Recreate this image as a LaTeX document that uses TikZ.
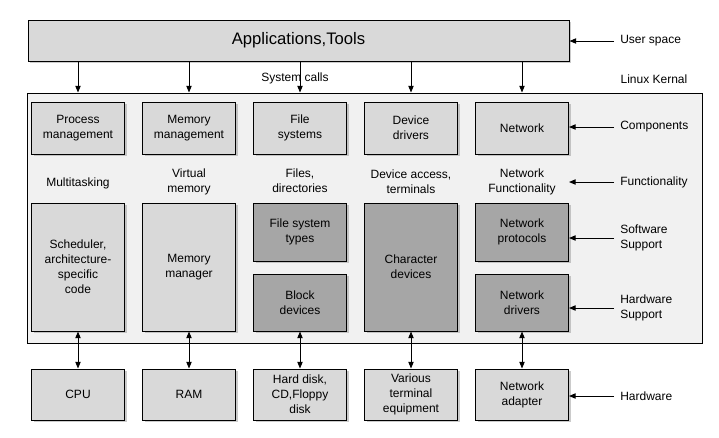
\documentclass[tikz,border=0pt]{standalone}
\usepackage{fontspec}
\setmainfont{Liberation Sans}
\definecolor{boxlight}{RGB}{217,217,217}
\definecolor{boxdark}{RGB}{166,166,166}
\definecolor{kernelbg}{RGB}{241,241,241}
\usetikzlibrary{arrows.meta,positioning,shadows,calc}

\begin{document}
\begin{tikzpicture}[x=0.75pt, y=-0.75pt,
    blk/.style={draw, line width=0.75pt, fill=boxlight, align=center, inner sep=1pt,
      minimum width=69.75pt, font=\fontsize{9}{11.25}\selectfont,
      drop shadow={shadow xshift=1.5pt, shadow yshift=-1.5pt, fill=black!45, opacity=0.45}},
    dark/.style={blk, fill=boxdark},
    lbl/.style={font=\fontsize{9}{11.25}\selectfont, align=center, inner sep=0pt},
    side/.style={lbl, align=left, anchor=west, inner sep=4.5pt},
    arr/.style={-{Triangle[length=5pt,width=4pt]}, line width=0.75pt},
    dbl/.style={{Triangle[length=5pt,width=4pt]}-{Triangle[length=5pt,width=4pt]}, line width=0.75pt}]
  \useasboundingbox (0,0) rectangle (719,437);

  % user space
  \node[blk, minimum width=405.75pt, minimum height=30.75pt, font=\fontsize{12.5}{15}\selectfont] (apps) at (298.5,40.5) {Applications,Tools};
  \node[lbl] (syscalls) at (295,78) {System calls};
  \node[lbl] (kernlbl) at (654,79) {Linux Kernal};

  % kernel area
  \node[draw, line width=0.75pt, fill=kernelbg, minimum width=506.25pt, minimum height=187.5pt] (kernel) at (364.5,218) {};

  % components
  \node[blk, minimum height=39pt] (proc) at (78,128) {Process\\management};
  \node[blk, minimum height=39pt] (mem) at (189,128) {Memory\\management};
  \node[blk, minimum height=39pt] (fs) at (300,128) {File\\systems};
  \node[blk, minimum height=39pt] (dev) at (411,128) {Device\\drivers};
  \node[blk, minimum height=39pt] (net) at (522,128) {Network};

  % functionality
  \node[lbl] (multi) at (78,183) {Multitasking};
  \node[lbl] (virt) at (189,182) {Virtual\\memory};
  \node[lbl] (files) at (300,181) {Files,\\directories};
  \node[lbl] (access) at (411,182) {Device access,\\terminals};
  \node[lbl] (netfun) at (522,182) {Network\\Functionality};

  % software / hardware support
  \node[blk, minimum height=96pt] (sched) at (78,267) {Scheduler,\\architecture-\\specific\\code};
  \node[blk, minimum height=96pt] (mman) at (189,267) {Memory\\manager};
  \node[dark, minimum height=43.5pt] (fstypes) at (300,232) {File system\\types};
  \node[dark, minimum height=42.75pt] (blkdev) at (300,302.5) {Block\\devices};
  \node[dark, minimum height=96pt] (chardev) at (411,267) {Character\\devices};
  \node[dark, minimum height=43.5pt] (netproto) at (522,232) {Network\\protocols};
  \node[dark, minimum height=42.75pt] (netdrv) at (522,302.5) {Network\\drivers};

  % hardware
  \node[blk, minimum height=38.25pt] (cpu) at (78,394.5) {CPU};
  \node[blk, minimum height=38.25pt] (ram) at (189,394.5) {RAM};
  \node[blk, minimum height=38.25pt] (disk) at (300,394.5) {Hard disk,\\CD,Floppy\\disk};
  \node[blk, minimum height=38.25pt] (term) at (411,394.5) {Various\\terminal\\equipment};
  \node[blk, minimum height=38.25pt] (nic) at (522,394.5) {Network\\adapter};

  % system calls
  \draw[arr] (proc.north |- apps.south) -- (proc.north |- kernel.north);
  \draw[arr] (mem.north |- apps.south) -- (mem.north |- kernel.north);
  \draw[arr] (fs.north |- apps.south) -- (fs.north |- kernel.north);
  \draw[arr] (dev.north |- apps.south) -- (dev.north |- kernel.north);
  \draw[arr] (net.north |- apps.south) -- (net.north |- kernel.north);

  % kernel <-> hardware
  \draw[dbl] (sched) -- (cpu);
  \draw[dbl] (mman) -- (ram);
  \draw[dbl] (blkdev) -- (disk);
  \draw[dbl] (chardev) -- (term);
  \draw[dbl] (netdrv) -- (nic);

  % layer names
  \node[side] (uspace) at (614,41) {User space};
  \node[side] (comp) at (614,127) {Components};
  \node[side] (func) at (614,182) {Functionality};
  \node[side] (swsup) at (614,238) {Software\\Support};
  \node[side] (hwsup) at (614,308) {Hardware\\Support};
  \node[side] (hw) at (614,396) {Hardware};
  \draw[arr] (uspace.west) -- (uspace.west -| apps.east);
  \draw[arr] (comp.west) -- (comp.west -| net.east);
  \draw[arr] (func.west) -- (func.west -| net.east);
  \draw[arr] (swsup.west) -- (swsup.west -| netproto.east);
  \draw[arr] (hwsup.west) -- (hwsup.west -| netdrv.east);
  \draw[arr] (hw.west) -- (hw.west -| nic.east);
\end{tikzpicture}
\end{document}
